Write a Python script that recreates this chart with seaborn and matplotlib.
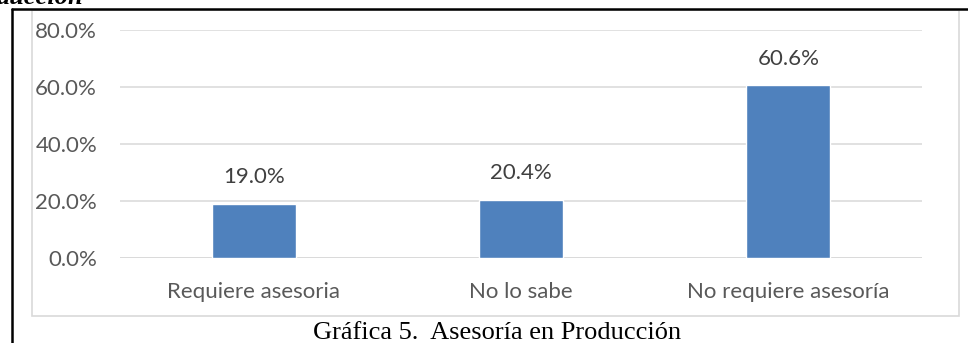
import matplotlib
matplotlib.use("Agg")
import matplotlib.pyplot as plt
import seaborn as sns
import pandas as pd
from matplotlib.patches import Rectangle
from matplotlib.lines import Line2D

# Survey results: need for advice in production
categories = ["Requiere asesoria", "No lo sabe", "No requiere asesoría"]
shares = [0.190, 0.204, 0.606]
ytick_values = [0.0, 0.2, 0.4, 0.6, 0.8]

df = pd.DataFrame({"categoria": categories, "porcentaje": shares})

sns.set_theme(style="white")
plt.rcParams["font.family"] = ["Lato", "DejaVu Sans"]

W, H = 968, 343
fig = plt.figure(figsize=(W / 100, H / 100), dpi=100)
fig.patch.set_facecolor("white")

# Page frame (black) and chart frame (light gray)
fig.add_artist(Line2D([11.5 / W, 11.5 / W], [0, 1 - 8.5 / H], transform=fig.transFigure,
                      color="black", lw=1.8))
fig.add_artist(Line2D([11.5 / W, 1.0], [1 - 8.5 / H, 1 - 8.5 / H], transform=fig.transFigure,
                      color="black", lw=1.8))
fig.add_artist(Rectangle((31.5 / W, 1 - 315.5 / H), (959 - 31.5) / W, (315.5 - 10) / H,
                         transform=fig.transFigure, fill=False, edgecolor="#D9D9D9", lw=1.2))

ax = fig.add_axes([120 / W, 1 - 258 / H, (922 - 120) / W, (258 - 30) / H])
sns.barplot(data=df, x="categoria", y="porcentaje", color="#4F81BD", width=0.315,
            saturation=1, ax=ax, zorder=3)

ax.set_ylim(0, 0.8)
ax.set_xlim(-0.5, 2.5)
ax.set_yticks(ytick_values)
ax.set_yticklabels([f"{v * 100:.1f}%" for v in ytick_values], color="#595959", fontsize=16)
ax.tick_params(axis="y", length=0, pad=16.5)
ax.tick_params(axis="x", length=0, pad=17, labelsize=16, labelcolor="#595959")
ax.set_xlabel("")
ax.set_ylabel("")
ax.grid(axis="y", color="#D9D9D9", lw=1.1, zorder=0)
for s in ax.spines.values():
    s.set_visible(False)
ax.axhline(0, color="#D9D9D9", lw=1.1, zorder=2)

for i, v in enumerate(shares):
    ax.annotate(f"{v * 100:.1f}%", (i, v), xytext=(0, 19), textcoords="offset points",
                ha="center", va="center", fontsize=16, color="#404040")

# Caption and the cut-off heading above the frame
fig.text(497 / W, 1 - 333 / H, "Gráfica 5.  Asesoría en Producción",
         family="Liberation Serif", fontsize=19, color="black", ha="center", va="center")
fig.text(-3 / W, 1 + 3 / H, "ducción", family="Liberation Serif", fontsize=19,
         fontweight="bold", fontstyle="italic", color="black", ha="left", va="center")

fig.savefig("out.png", dpi=100)
